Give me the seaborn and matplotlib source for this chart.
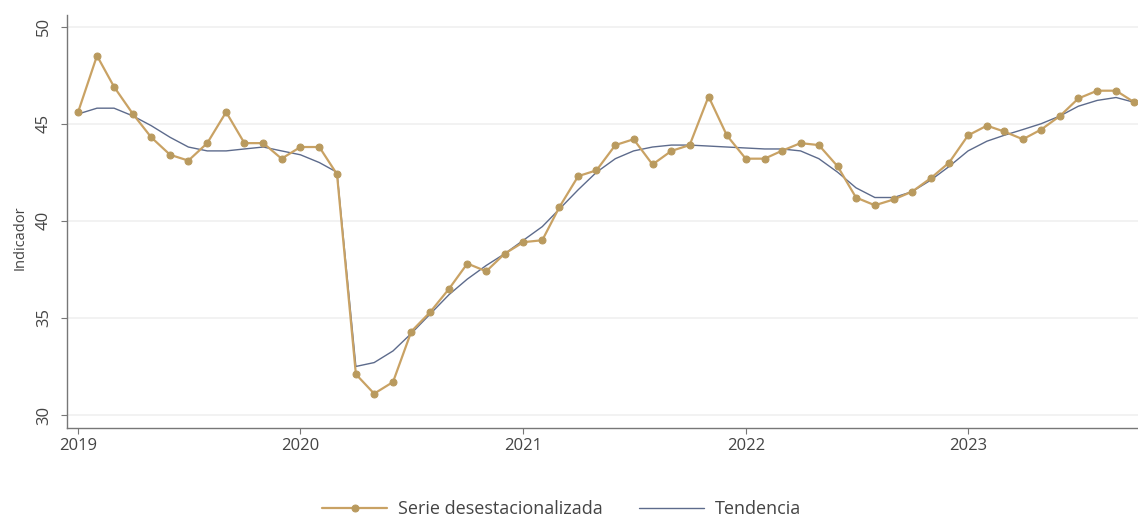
import matplotlib
matplotlib.use("Agg")
import matplotlib.pyplot as plt
import matplotlib.dates as mdates
import seaborn as sns
import pandas as pd

fechas = pd.date_range("2019-01-01", "2023-10-01", freq="MS")

serie = [45.6, 48.5, 46.9, 45.5, 44.3, 43.4, 43.1, 44.0, 45.6, 44.0, 44.0, 43.2,
         43.8, 43.8, 42.4, 32.1, 31.1, 31.7, 34.3, 35.3, 36.5, 37.8, 37.4, 38.3,
         38.9, 39.0, 40.7, 42.3, 42.6, 43.9, 44.2, 42.9, 43.6, 43.9, 46.4, 44.4,
         43.2, 43.2, 43.6, 44.0, 43.9, 42.8, 41.2, 40.8, 41.1, 41.5, 42.2, 43.0,
         44.4, 44.9, 44.6, 44.2, 44.7, 45.4, 46.3, 46.7, 46.7, 46.1]

tendencia = [45.5, 45.8, 45.8, 45.4, 44.9, 44.3, 43.8, 43.6, 43.6, 43.7, 43.8, 43.6,
             43.4, 43.0, 42.5, 32.5, 32.7, 33.3, 34.2, 35.2, 36.2, 37.0, 37.7, 38.3,
             39.0, 39.7, 40.6, 41.6, 42.5, 43.2, 43.6, 43.8, 43.9, 43.9, 43.85, 43.8,
             43.75, 43.7, 43.7, 43.6, 43.2, 42.5, 41.7, 41.2, 41.2, 41.5, 42.1, 42.8,
             43.6, 44.1, 44.4, 44.7, 45.0, 45.4, 45.9, 46.2, 46.35, 46.1]

df = pd.DataFrame({"fecha": fechas, "serie": serie, "tendencia": tendencia})

sns.set_style("white")
plt.rcParams["font.family"] = ["Open Sans", "DejaVu Sans"]

fig = plt.figure(figsize=(11.38, 5.16), dpi=100)
ax = fig.add_axes([0.059, 0.1705, 0.941, 0.8005])

oro = "#c9a264"
azul = "#5d6b8c"

sns.lineplot(data=df, x="fecha", y="serie", ax=ax, color=oro, linewidth=1.6,
             marker="o", markersize=5, markerfacecolor="#b99a5e",
             markeredgecolor="#b99a5e", label="Serie desestacionalizada", zorder=3)
sns.lineplot(data=df, x="fecha", y="tendencia", ax=ax, color=azul, linewidth=1.0,
             label="Tendencia", zorder=2)

ax.set_ylim(29.33, 50.6)
ax.set_xlim(pd.Timestamp("2018-12-14"), pd.Timestamp("2023-10-07"))
ax.set_yticks([30, 35, 40, 45, 50])
ax.xaxis.set_major_locator(mdates.YearLocator())
ax.xaxis.set_major_formatter(mdates.DateFormatter("%Y"))
ax.grid(axis="y", color="#f0f0f0", linewidth=1.2)
ax.set_axisbelow(True)

for s in ["top", "right"]:
    ax.spines[s].set_visible(False)
for s in ["left", "bottom"]:
    ax.spines[s].set_color("#777777")
    ax.spines[s].set_linewidth(1.0)

ax.tick_params(axis="both", colors="#777777", labelcolor="#444444", labelsize=12,
               length=4, width=0.8, left=True, bottom=True)
ax.tick_params(axis="y", pad=7)
for lab in ax.get_yticklabels():
    lab.set_rotation(90)
    lab.set_va("center")

ax.set_xlabel("")
ax.set_ylabel("Indicador", color="#444444", fontsize=10.5)
ax.yaxis.set_label_coords(-0.037, 0.46)

leg = ax.legend(loc="upper center", bbox_to_anchor=(0.462, -0.135), ncol=2,
                frameon=False, fontsize=13, handlelength=3.6, handletextpad=0.6,
                columnspacing=2.0)
for t in leg.get_texts():
    t.set_color("#444444")

fig.savefig("out.png", dpi=100)
